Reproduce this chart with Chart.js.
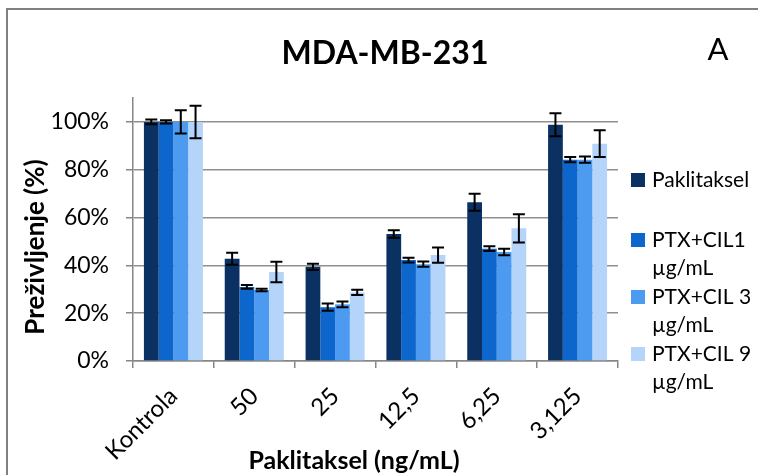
<!DOCTYPE html>
<html>
<head>
<meta charset="utf-8">
<script src="https://cdn.jsdelivr.net/npm/chart.js@4/dist/chart.umd.min.js"></script>
<style>
  html, body { margin: 0; padding: 0; background: #fff; }
  #wrap { width: 758px; height: 475px; position: relative; }
</style>
</head>
<body>
<div id="wrap"><canvas id="c" width="758" height="475"></canvas></div>
<script>
// categories (Paklitaksel ng/mL)
var categories = ['Kontrola', '50', '25', '12,5', '6,25', '3,125'];

// survival in %
var paklitaksel    = [100, 42.8, 39.4, 53.1, 66.4, 98.8];
var paklitakselErr = [1.0, 2.5, 1.3, 1.6, 3.6, 4.8];
var cil1           = [100, 31.0, 22.5, 42.2, 47.0, 84.2];
var cil1Err        = [0.7, 0.8, 1.5, 1.0, 1.0, 1.1];
var cil3           = [100, 29.7, 23.7, 40.5, 45.6, 84.2];
var cil3Err        = [4.9, 0.5, 1.2, 1.1, 1.4, 1.3];
var cil9           = [100, 37.2, 28.7, 44.3, 55.5, 90.9];
var cil9Err        = [6.8, 4.3, 1.1, 3.2, 5.9, 5.6];

var seriesNames = ['Paklitaksel', 'PTX+CIL1 µg/mL', 'PTX+CIL 3 µg/mL', 'PTX+CIL 9 µg/mL'];
var seriesColors = ['#0B3163', '#0C66CB', '#4D9BF1', '#B4D4F9'];
var yTicks = [0, 20, 40, 60, 80, 100];

var FONT = 'Lato, "Open Sans", sans-serif';

var extras = {
    id: 'extras',
    beforeDraw: function(chart) {
        var ctx = chart.ctx;
        ctx.save();
        ctx.fillStyle = '#fff';
        ctx.fillRect(0, 0, chart.width, chart.height);
        ctx.strokeStyle = '#808080';
        ctx.lineWidth = 2;
        ctx.beginPath();
        ctx.moveTo(7, chart.height);
        ctx.lineTo(7, 9);
        ctx.lineTo(chart.width, 9);
        ctx.stroke();
        ctx.restore();
    },
    afterDatasetsDraw: function(chart) {
        var ctx = chart.ctx, y = chart.scales.y;
        ctx.save();
        ctx.strokeStyle = '#000';
        ctx.lineWidth = 2;
        chart.data.datasets.forEach(function(ds, i) {
            var meta = chart.getDatasetMeta(i);
            meta.data.forEach(function(bar, j) {
                var v = ds.data[j], e = ds.err[j];
                var top = y.getPixelForValue(v + e), bot = y.getPixelForValue(v - e);
                ctx.beginPath();
                ctx.moveTo(bar.x, top); ctx.lineTo(bar.x, bot);
                ctx.moveTo(bar.x - 6, top); ctx.lineTo(bar.x + 6, top);
                ctx.moveTo(bar.x - 6, bot); ctx.lineTo(bar.x + 6, bot);
                ctx.stroke();
            });
        });
        ctx.restore();
    },
    afterDraw: function(chart) {
        var ctx = chart.ctx;
        ctx.save();
        ctx.fillStyle = '#000';
        ctx.textAlign = 'center';
        ctx.textBaseline = 'middle';
        ctx.font = 'bold 32px ' + FONT;
        ctx.fillText('MDA-MB-231', 385, 54);
        ctx.font = '31px ' + FONT;
        ctx.fillText('A', 718, 50);
        ctx.font = 'bold 25px ' + FONT;
        ctx.fillText('Paklitaksel (ng/mL)', 354, 461);
        ctx.save();
        ctx.translate(36, 247);
        ctx.rotate(-Math.PI / 2);
        ctx.font = 'bold 26px ' + FONT;
        ctx.fillText('Preživljenje (%)', 0, 0);
        ctx.restore();

        // legend
        var rows = [180, 240, 297, 354];
        ctx.textAlign = 'left';
        ctx.font = '21px ' + FONT;
        chart.data.datasets.forEach(function(ds, i) {
            var words = ds.label.split(' ');
            var lines = [], cur = '';
            words.forEach(function(w) {
                var t = cur ? cur + ' ' + w : w;
                if (cur && ctx.measureText(t).width > 104) { lines.push(cur); cur = w; }
                else cur = t;
            });
            lines.push(cur);
            ctx.fillStyle = ds.backgroundColor;
            ctx.fillRect(631, rows[i] - 7, 14, 14);
            ctx.fillStyle = '#000';
            lines.forEach(function(l, k) { ctx.fillText(l, 652, rows[i] + k * 28); });
        });
        ctx.restore();
    }
};

var datasets = [
    { label: seriesNames[0], data: paklitaksel, err: paklitakselErr, backgroundColor: seriesColors[0] },
    { label: seriesNames[1], data: cil1, err: cil1Err, backgroundColor: seriesColors[1] },
    { label: seriesNames[2], data: cil3, err: cil3Err, backgroundColor: seriesColors[2] },
    { label: seriesNames[3], data: cil9, err: cil9Err, backgroundColor: seriesColors[3] }
];

var chart = new Chart(document.getElementById('c'), {
    type: 'bar',
    data: { labels: categories, datasets: datasets },
    options: {
        responsive: false,
        animation: false,
        devicePixelRatio: 1,
        layout: { padding: { left: 0, top: 98, right: 140, bottom: 0 } },
        datasets: { bar: { categoryPercentage: 0.73, barPercentage: 1, borderWidth: 0 } },
        plugins: { legend: { display: false }, tooltip: { enabled: false }, title: { display: false } },
        scales: {
            x: {
                afterFit: function(s) { s.height = 114; },
                grid: { offset: true, drawOnChartArea: false, drawTicks: true, tickLength: 7, color: '#868686', lineWidth: 1.5 },
                border: { color: '#868686', width: 1.5 },
                ticks: { minRotation: 45, maxRotation: 45, padding: 14, color: '#000', font: { family: FONT, size: 24 } }
            },
            y: {
                min: 0, max: 110,
                afterFit: function(s) { s.width = 133; },
                afterBuildTicks: function(s) { s.ticks = yTicks.map(function(v) { return { value: v }; }); },
                grid: { color: '#8f8f8f', lineWidth: 1.5, drawTicks: true, tickLength: 7, tickColor: '#868686' },
                border: { color: '#868686', width: 1.5 },
                ticks: { padding: 17, color: '#000', font: { family: FONT, size: 23 }, callback: function(v) { return v + '%'; } }
            }
        }
    },
    plugins: [extras]
});
</script>
</body>
</html>
